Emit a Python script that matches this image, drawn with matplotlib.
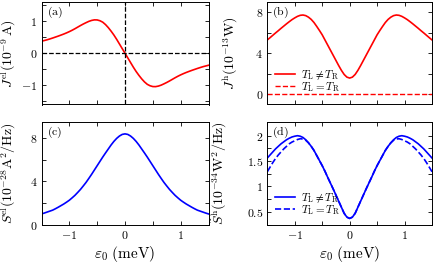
import matplotlib
matplotlib.use('Agg')
import matplotlib.pyplot as plt

plt.rcParams['mathtext.fontset'] = 'cm'
plt.rcParams['font.family'] = 'serif'
plt.rcParams['font.serif'] = ['DejaVu Serif']

# energy grid (meV)
eps = [-1.5, -1.45, -1.4, -1.35, -1.3, -1.25, -1.2, -1.15, -1.1, -1.05,
       -1.0, -0.95, -0.9, -0.85, -0.8, -0.75, -0.7, -0.65, -0.6, -0.55,
       -0.5, -0.45, -0.4, -0.35, -0.3, -0.25, -0.2, -0.15, -0.1, -0.05,
       0.0, 0.05, 0.1, 0.15, 0.2, 0.25, 0.3, 0.35, 0.4, 0.45, 0.5,
       0.55, 0.6, 0.65, 0.7, 0.75, 0.8, 0.85, 0.9, 0.95, 1.0,
       1.05, 1.1, 1.15, 1.2, 1.25, 1.3, 1.35, 1.4, 1.45, 1.5]

# (a) charge current, 1e-9 A
j_el = [0.375, 0.397, 0.42, 0.447, 0.475, 0.505, 0.535, 0.567, 0.60, 0.636,
        0.675, 0.718, 0.765, 0.815, 0.865, 0.912, 0.955, 0.995, 1.025, 1.042,
        1.04, 1.015, 0.97, 0.895, 0.80, 0.69, 0.57, 0.435, 0.29, 0.145,
        0.0, -0.145, -0.29, -0.435, -0.57, -0.69, -0.80, -0.895, -0.97, -1.015, -1.04,
        -1.042, -1.025, -0.995, -0.955, -0.912, -0.865, -0.815, -0.765, -0.718, -0.675,
        -0.636, -0.60, -0.567, -0.535, -0.505, -0.475, -0.447, -0.42, -0.397, -0.375]

# (b) heat current, 1e-13 W
j_h = [5.3, 5.52, 5.75, 5.98, 6.2, 6.43, 6.65, 6.87, 7.08, 7.28,
       7.45, 7.6, 7.7, 7.73, 7.67, 7.52, 7.3, 7.0, 6.62, 6.22,
       5.8, 5.3, 4.8, 4.3, 3.8, 3.3, 2.8, 2.33, 1.93, 1.67,
       1.58, 1.67, 1.93, 2.33, 2.8, 3.3, 3.8, 4.3, 4.8, 5.3, 5.8,
       6.22, 6.62, 7.0, 7.3, 7.52, 7.67, 7.73, 7.7, 7.6, 7.45,
       7.28, 7.08, 6.87, 6.65, 6.43, 6.2, 5.98, 5.75, 5.52, 5.3]
j_h_eq = [0.0] * 61

# (c) charge noise, 1e-28 A^2/Hz
s_el = [0.98, 1.06, 1.15, 1.24, 1.33, 1.46, 1.6, 1.75, 1.9, 2.07,
        2.25, 2.47, 2.7, 2.97, 3.25, 3.57, 3.9, 4.27, 4.65, 5.05,
        5.45, 5.85, 6.25, 6.63, 7.0, 7.37, 7.7, 7.98, 8.2, 8.35,
        8.4, 8.35, 8.2, 7.98, 7.7, 7.37, 7.0, 6.63, 6.25, 5.85, 5.45,
        5.05, 4.65, 4.27, 3.9, 3.57, 3.25, 2.97, 2.7, 2.47, 2.25,
        2.07, 1.9, 1.75, 1.6, 1.46, 1.33, 1.24, 1.15, 1.06, 0.98]

# (d) heat noise, 1e-34 W^2/Hz
s_h = [1.56, 1.62, 1.68, 1.74, 1.79, 1.84, 1.88, 1.92, 1.95, 1.975,
       1.99, 2.0, 1.99, 1.965, 1.92, 1.86, 1.79, 1.71, 1.61, 1.51,
       1.41, 1.30, 1.18, 1.065, 0.95, 0.83, 0.71, 0.59, 0.47, 0.395,
       0.37, 0.395, 0.47, 0.59, 0.71, 0.83, 0.95, 1.065, 1.18, 1.30, 1.41,
       1.51, 1.61, 1.71, 1.79, 1.86, 1.92, 1.965, 1.99, 2.0, 1.99,
       1.975, 1.95, 1.92, 1.88, 1.84, 1.79, 1.74, 1.68, 1.62, 1.56]
s_h_eq = [1.29, 1.38, 1.47, 1.55, 1.62, 1.68, 1.74, 1.79, 1.84, 1.875,
          1.90, 1.925, 1.94, 1.935, 1.91, 1.86, 1.79, 1.71, 1.61, 1.51,
          1.41, 1.30, 1.18, 1.065, 0.95, 0.83, 0.71, 0.59, 0.47, 0.395,
          0.37, 0.395, 0.47, 0.59, 0.71, 0.83, 0.95, 1.065, 1.18, 1.30, 1.41,
          1.51, 1.61, 1.71, 1.79, 1.86, 1.91, 1.935, 1.94, 1.925, 1.90,
          1.875, 1.84, 1.79, 1.74, 1.68, 1.62, 1.55, 1.47, 1.38, 1.29]

lbl_neq = r'$T_{\rm L} \neq T_{\rm R}$'
lbl_eq = r'$T_{\rm L} = T_{\rm R}$'

fig = plt.figure(figsize=(4.36, 2.64), dpi=100)
W, H = 436.0, 264.0


def box(x0, y0, x1, y1):
    return [x0 / W, 1 - y1 / H, (x1 - x0) / W, (y1 - y0) / H]


ax_a = fig.add_axes(box(41.5, 2, 208.5, 104.5))
ax_b = fig.add_axes(box(267.3, 2, 432, 104.5))
ax_c = fig.add_axes(box(41.5, 122, 208.5, 224.5))
ax_d = fig.add_axes(box(267.3, 122, 432, 224.5))

fs = 8.5
xt = [-1.5, -1.0, -0.5, 0.0, 0.5, 1.0, 1.5]
xtl = ['', r'$-1$', '', r'$0$', '', r'$1$', '']


def style(ax, yt, ytl, ylim, bottom):
    ax.set_xlim(-1.5, 1.5)
    ax.set_ylim(*ylim)
    ax.set_xticks(xt)
    ax.set_xticklabels(xtl if bottom else [''] * len(xt), fontsize=fs)
    ax.set_yticks(yt)
    ax.set_yticklabels(ytl, fontsize=fs)
    ax.tick_params(direction='in', top=True, right=True, length=3, width=0.6, pad=3)
    for s in ax.spines.values():
        s.set_linewidth(0.7)


# (a)
ax_a.plot(eps, j_el, color='r', lw=1.2)
ax_a.axhline(0, color='k', ls='--', lw=0.9)
ax_a.axvline(0, color='k', ls='--', lw=0.9)
style(ax_a, [-1.5, -1, -0.5, 0, 0.5, 1, 1.5],
      ['', r'$-1$', '', r'$0$', '', r'$1$', ''], (-1.6, 1.6), False)
ax_a.set_ylabel(r'$J^{\rm el}(10^{-9}\,{\rm A})$', fontsize=10)
ax_a.yaxis.set_label_coords(-0.14, 0.5)
ax_a.text(0.03, 0.97, r'$\rm (a)$', transform=ax_a.transAxes, fontsize=fs, va='top')

# (b)
ax_b.plot(eps, j_h, color='r', lw=1.2, label=lbl_neq)
ax_b.plot(eps, j_h_eq, color='r', ls='--', lw=1.0, label=lbl_eq)
style(ax_b, [0, 2, 4, 6, 8], [r'$0$', '', r'$4$', '', r'$8$'], (-1, 9), False)
ax_b.set_ylabel(r'$J^{\rm h}(10^{-13}{\rm W})$', fontsize=10)
ax_b.yaxis.set_label_coords(-0.165, 0.5)
ax_b.text(0.03, 0.97, r'$\rm (b)$', transform=ax_b.transAxes, fontsize=fs, va='top')
ax_b.legend(loc='lower left', bbox_to_anchor=(0.0, 0.03), frameon=False, fontsize=8,
            handlelength=1.8, handletextpad=0.5, labelspacing=-0.2, borderpad=0.2)

# (c)
ax_c.plot(eps, s_el, color='b', lw=1.2)
style(ax_c, [0, 2, 4, 6, 8], [r'$0$', '', r'$4$', '', r'$8$'], (0, 9.5), True)
ax_c.set_ylabel(r'$\tilde{S}^{\rm el}(10^{-28}{\rm A}^2/{\rm Hz})$', fontsize=10)
ax_c.yaxis.set_label_coords(-0.14, 0.5)
ax_c.set_xlabel(r'$\varepsilon_0\ ({\rm meV})$', fontsize=11, labelpad=2)
ax_c.text(0.03, 0.97, r'$\rm (c)$', transform=ax_c.transAxes, fontsize=fs, va='top')

# (d)
ax_d.plot(eps, s_h, color='b', lw=1.2, label=lbl_neq)
ax_d.plot(eps, s_h_eq, color='b', ls='--', lw=1.2, label=lbl_eq)
style(ax_d, [0.25, 0.5, 0.75, 1.0, 1.25, 1.5, 1.75, 2.0],
      ['', r'$0.5$', '', r'$1$', '', r'$1.5$', '', r'$2$'], (0.25, 2.27), True)
ax_d.set_ylabel(r'$\tilde{S}^{\rm h}(10^{-34}{\rm W}^2/{\rm Hz})$', fontsize=10)
ax_d.yaxis.set_label_coords(-0.23, 0.5)
ax_d.set_xlabel(r'$\varepsilon_0\ ({\rm meV})$', fontsize=11, labelpad=2)
ax_d.text(0.03, 0.97, r'$\rm (d)$', transform=ax_d.transAxes, fontsize=fs, va='top')
ax_d.legend(loc='lower left', bbox_to_anchor=(0.0, 0.0), frameon=False, fontsize=8,
            handlelength=1.8, handletextpad=0.5, labelspacing=-0.2, borderpad=0.2)

fig.savefig('out.png', dpi=100)
